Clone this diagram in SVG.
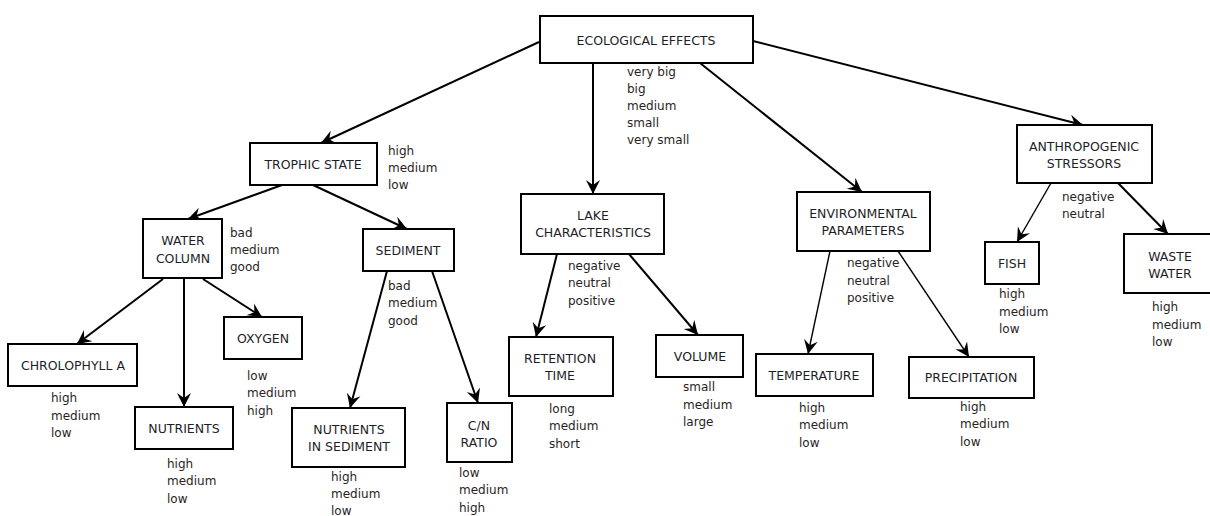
<svg xmlns="http://www.w3.org/2000/svg" width="1210" height="516" viewBox="0 0 1210 516">
<style>
.box{fill:#fff;stroke:#000;stroke-width:2}
.nt{font-family:"DejaVu Sans",Verdana,sans-serif;font-size:12.5px;fill:#1e1e28;text-anchor:middle}
.lb{font-family:"DejaVu Sans",Verdana,sans-serif;font-size:12px;fill:#2a1e1e}
.c{fill:none;stroke:#000;stroke-width:2;marker-end:url(#ah)}
.t{stroke-width:1.4}
</style>
<defs>
<marker id="ah" markerUnits="userSpaceOnUse" markerWidth="16" markerHeight="16" viewBox="-14 -8 16 16" refX="0" refY="0" orient="auto">
<path d="M0,0 L-14,-7 L-9,0 L-14,7 Z" fill="#000"/>
</marker>
</defs>
<rect width="1210" height="516" fill="#fff"/>
<g id="connectors">
<line class="c" x1="539" y1="42" x2="321" y2="143"/>
<line class="c" x1="593" y1="63" x2="593" y2="194"/>
<line class="c" x1="700" y1="63" x2="862" y2="192"/>
<line class="c" x1="753" y1="41" x2="1083" y2="125"/>
<line class="c" x1="282" y1="185" x2="188" y2="219"/>
<line class="c" x1="313" y1="185" x2="407" y2="229"/>
<line class="c" x1="163" y1="279" x2="77" y2="344"/>
<line class="c" x1="184" y1="279" x2="184" y2="407"/>
<line class="c" x1="203" y1="279" x2="262" y2="317"/>
<line class="c" x1="387" y1="271" x2="350" y2="408"/>
<line class="c" x1="432" y1="271" x2="478" y2="403"/>
<line class="c" x1="557" y1="254" x2="536" y2="337"/>
<line class="c" x1="629" y1="254" x2="698" y2="335"/>
<line class="c t" x1="830" y1="251" x2="808" y2="354"/>
<line class="c t" x1="898" y1="251" x2="969" y2="357"/>
<line class="c t" x1="1051" y1="183" x2="1017" y2="242"/>
<line class="c" x1="1118" y1="183" x2="1168" y2="234"/>
</g>
<g id="ecological-effects">
<rect class="box" x="540" y="16" width="213" height="47"/>
<text class="nt" x="646" y="45">ECOLOGICAL EFFECTS</text>
<text class="lb" x="627" y="76">very big</text>
<text class="lb" x="627" y="93">big</text>
<text class="lb" x="627" y="110">medium</text>
<text class="lb" x="627" y="127">small</text>
<text class="lb" x="627" y="144">very small</text>
</g>
<g id="trophic-state">
<rect class="box" x="250" y="143" width="127" height="42"/>
<text class="nt" x="313" y="169">TROPHIC STATE</text>
<text class="lb" x="388" y="155">high</text>
<text class="lb" x="388" y="172">medium</text>
<text class="lb" x="388" y="189">low</text>
</g>
<g id="water-column">
<rect class="box" x="143" y="219" width="79" height="59"/>
<text class="nt" x="183" y="245">WATER</text>
<text class="nt" x="183" y="263">COLUMN</text>
<text class="lb" x="230" y="237">bad</text>
<text class="lb" x="230" y="254">medium</text>
<text class="lb" x="230" y="271">good</text>
</g>
<g id="sediment">
<rect class="box" x="363" y="229" width="91" height="42"/>
<text class="nt" x="408" y="255">SEDIMENT</text>
<text class="lb" x="388" y="290">bad</text>
<text class="lb" x="388" y="307">medium</text>
<text class="lb" x="388" y="325">good</text>
</g>
<g id="chlorophyll-a">
<rect class="box" x="8" y="344" width="129" height="42"/>
<text class="nt" x="73" y="370">CHROLOPHYLL A</text>
<text class="lb" x="51" y="402">high</text>
<text class="lb" x="51" y="420">medium</text>
<text class="lb" x="51" y="437">low</text>
</g>
<g id="nutrients">
<rect class="box" x="135" y="407" width="98" height="42"/>
<text class="nt" x="184" y="433">NUTRIENTS</text>
<text class="lb" x="167" y="468">high</text>
<text class="lb" x="167" y="485">medium</text>
<text class="lb" x="167" y="503">low</text>
</g>
<g id="oxygen">
<rect class="box" x="224" y="317" width="78" height="42"/>
<text class="nt" x="263" y="343">OXYGEN</text>
<text class="lb" x="247" y="380">low</text>
<text class="lb" x="247" y="397">medium</text>
<text class="lb" x="247" y="415">high</text>
</g>
<g id="nutrients-in-sediment">
<rect class="box" x="292" y="408" width="113" height="59"/>
<text class="nt" x="349" y="434">NUTRIENTS</text>
<text class="nt" x="349" y="451">IN SEDIMENT</text>
<text class="lb" x="331" y="481">high</text>
<text class="lb" x="331" y="498">medium</text>
<text class="lb" x="331" y="515">low</text>
</g>
<g id="cn-ratio">
<rect class="box" x="447" y="403" width="65" height="59"/>
<text class="nt" x="479" y="430">C/N</text>
<text class="nt" x="479" y="447">RATIO</text>
<text class="lb" x="459" y="477">low</text>
<text class="lb" x="459" y="494">medium</text>
<text class="lb" x="459" y="512">high</text>
</g>
<g id="lake-characteristics">
<rect class="box" x="521" y="194" width="143" height="60"/>
<text class="nt" x="593" y="220">LAKE</text>
<text class="nt" x="593" y="237">CHARACTERISTICS</text>
<text class="lb" x="568" y="270">negative</text>
<text class="lb" x="568" y="287">neutral</text>
<text class="lb" x="568" y="305">positive</text>
</g>
<g id="retention-time">
<rect class="box" x="509" y="337" width="104" height="59"/>
<text class="nt" x="560" y="363">RETENTION</text>
<text class="nt" x="560" y="380">TIME</text>
<text class="lb" x="549" y="413">long</text>
<text class="lb" x="549" y="430">medium</text>
<text class="lb" x="549" y="448">short</text>
</g>
<g id="volume">
<rect class="box" x="656" y="335" width="87" height="42"/>
<text class="nt" x="700" y="361">VOLUME</text>
<text class="lb" x="683" y="391">small</text>
<text class="lb" x="683" y="409">medium</text>
<text class="lb" x="683" y="426">large</text>
</g>
<g id="environmental-parameters">
<rect class="box" x="797" y="192" width="133" height="59"/>
<text class="nt" x="863" y="218">ENVIRONMENTAL</text>
<text class="nt" x="863" y="235">PARAMETERS</text>
<text class="lb" x="847" y="267">negative</text>
<text class="lb" x="847" y="285">neutral</text>
<text class="lb" x="847" y="302">positive</text>
</g>
<g id="temperature">
<rect class="box" x="756" y="354" width="117" height="42"/>
<text class="nt" x="814" y="380">TEMPERATURE</text>
<text class="lb" x="799" y="412">high</text>
<text class="lb" x="799" y="429">medium</text>
<text class="lb" x="799" y="447">low</text>
</g>
<g id="precipitation">
<rect class="box" x="909" y="357" width="125" height="41"/>
<text class="nt" x="971" y="382">PRECIPITATION</text>
<text class="lb" x="960" y="411">high</text>
<text class="lb" x="960" y="428">medium</text>
<text class="lb" x="960" y="446">low</text>
</g>
<g id="anthropogenic-stressors">
<rect class="box" x="1017" y="125" width="135" height="58"/>
<text class="nt" x="1084" y="151">ANTHROPOGENIC</text>
<text class="nt" x="1084" y="168">STRESSORS</text>
<text class="lb" x="1062" y="201">negative</text>
<text class="lb" x="1062" y="218">neutral</text>
</g>
<g id="fish">
<rect class="box" x="985" y="242" width="54" height="42"/>
<text class="nt" x="1012" y="268">FISH</text>
<text class="lb" x="999" y="298">high</text>
<text class="lb" x="999" y="316">medium</text>
<text class="lb" x="999" y="333">low</text>
</g>
<g id="waste-water">
<rect class="box" x="1124" y="234" width="92" height="59"/>
<text class="nt" x="1170" y="261">WASTE</text>
<text class="nt" x="1170" y="278">WATER</text>
<text class="lb" x="1152" y="311">high</text>
<text class="lb" x="1152" y="329">medium</text>
<text class="lb" x="1152" y="346">low</text>
</g>
</svg>
